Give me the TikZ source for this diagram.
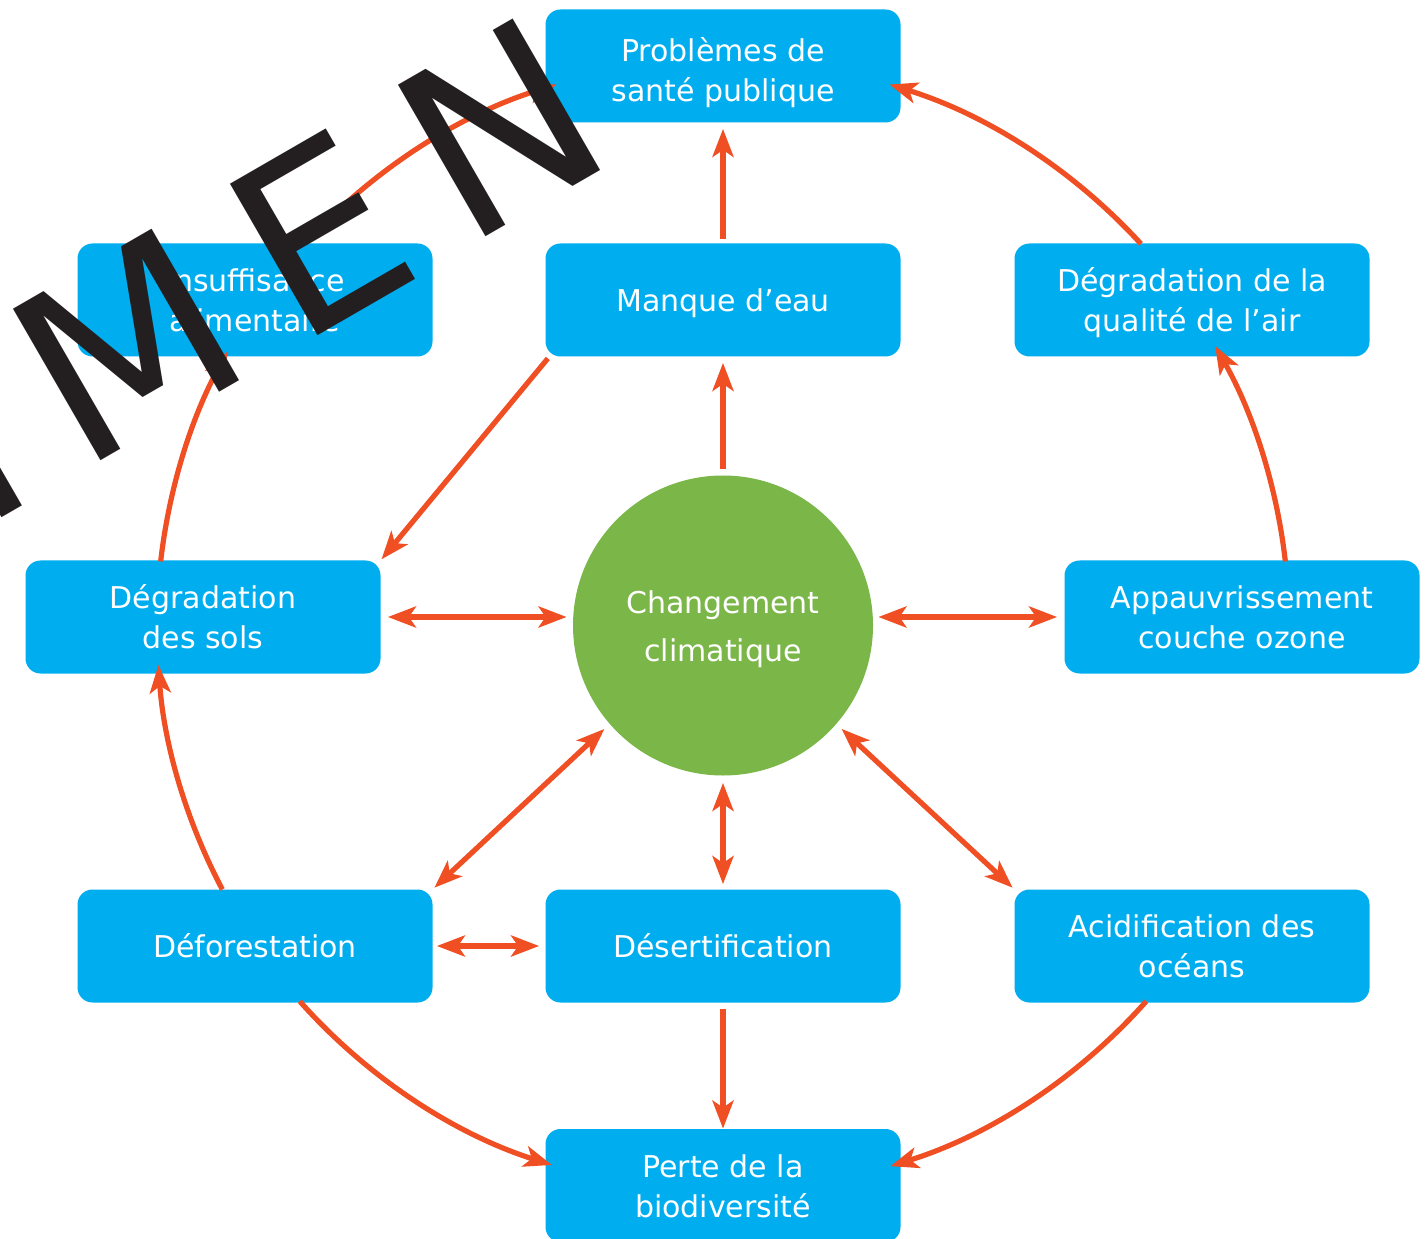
\documentclass[tikz,border=0pt]{standalone}
\usepackage{fontspec}
\setmainfont{DejaVu Sans}
\usetikzlibrary{arrows.meta}
\definecolor{boxblue}{HTML}{00AEEF}
\definecolor{cgreen}{HTML}{7AB648}
\definecolor{arrred}{HTML}{F04E23}
\definecolor{wmark}{HTML}{231F20}
\newcommand{\mystrut}{\rule[-3.5pt]{0pt}{18.5pt}}
\newcommand{\mytallstrut}{\rule[-3.5pt]{0pt}{22.5pt}}
\begin{document}
\begin{tikzpicture}[x=0.5pt,y=0.5pt,
  box/.style={rectangle, rounded corners=7.5pt, fill=boxblue, text=white,
    minimum width=177.5pt, minimum height=56.5pt, inner sep=0pt, align=center,
    font=\fontsize{15}{20}\selectfont},
  hub/.style={circle, fill=cgreen, text=white, minimum size=150pt, inner sep=0pt,
    align=center, font=\fontsize{15}{24}\selectfont},
  arr/.style={draw=arrred, line width=2.6pt, -{Stealth[length=14pt,width=10.5pt,inset=3.5pt]}},
  darr/.style={draw=arrred, line width=2.6pt,
    {Stealth[length=14pt,width=10.5pt,inset=3.5pt]}-{Stealth[length=14pt,width=10.5pt,inset=3.5pt]}},
  wm/.style={text=wmark, font=\fontsize{120}{120}\selectfont, inner sep=0pt,
    outer sep=0pt, anchor=base west, rotate=30}
]
\useasboundingbox (0,0) rectangle (1427,1238);
\clip (0,0) rectangle (1427,1238);

% boxes
\node[box] (prob)   at (723,1172) {\mytallstrut Problèmes de\\\mystrut santé publique};
\node[box] (manque) at (723,938)  {\mystrut Manque d’eau};
\node[box] (insuf)  at (255,938)  {\mystrut Insuffisance\\\mystrut alimentaire};
\node[box] (air)    at (1192,938) {\mystrut Dégradation de la\\\mystrut qualité de l’air};
\node[box] (sols)   at (203,621)  {\mystrut Dégradation\\\mystrut des sols};
\node[box] (ozone)  at (1242,621) {\mystrut Appauvrissement\\\mystrut couche ozone};
\node[hub] (cc)     at (723,612.5) {\mystrut Changement\\\mystrut climatique};
\node[box] (defor)  at (255,292)  {\mystrut Déforestation};
\node[box] (desert) at (723,292)  {\mystrut Désertification};
\node[box] (acid)   at (1192,292) {\mystrut Acidification des\\\mystrut océans};
\node[box] (perte)  at (723,52.5) {\mystrut Perte de la\\\mystrut biodiversité};

% straight connectors
\draw[arr, shorten <=2pt, shorten >=3pt] (manque.north) -- (prob.south);
\draw[arr, shorten <=3pt, shorten >=3pt] (cc.north) -- (manque.south);
\draw[arr, shorten <=1pt, shorten >=0.5pt] ([xshift=2pt]manque.south west) -- (sols.north east);
\draw[darr, shorten <=3.5pt, shorten >=3pt] (sols.east) -- (sols.east -| cc.west);
\draw[darr, shorten <=2.5pt, shorten >=3.5pt] (ozone.west -| cc.east) -- (ozone.west);
\draw[darr, shorten <=3.5pt, shorten >=1pt] (cc.221) -- (defor.north east);
\draw[darr, shorten <=3.5pt, shorten >=1pt] (cc.319) -- (acid.north west);
\draw[darr, shorten <=3.5pt, shorten >=2.5pt] (cc.south) -- (desert.north);
\draw[darr, shorten <=2pt, shorten >=3pt] (defor.east) -- (desert.west);
\draw[arr, shorten <=3pt] (desert.south) -- (perte.north);

% outer ring connectors (arcs around the hub)
\draw[arr] (cc.center) ++(221.6:566) arc[start angle=221.6, end angle=252.4, radius=283pt];
\draw[arr] (cc.center) ++(318.4:566) arc[start angle=318.4, end angle=287.2, radius=283pt];
\draw[arr] (cc.center) ++(207.8:566) arc[start angle=207.8, end angle=184, radius=283pt];
\draw[arr] (cc.center) ++(173.5:566) arc[start angle=173.5, end angle=151, radius=283pt];
\draw[arr] (cc.center) ++(137.5:566) arc[start angle=137.5, end angle=107.1, radius=283pt];
\draw[arr] (cc.center) ++(6.5:566) arc[start angle=6.5, end angle=29.6, radius=283pt];
\draw[arr] (cc.center) ++(42.4:566) arc[start angle=42.4, end angle=72.9, radius=283pt];

% watermark
\node[wm] (wI) at (-18.1,708.2) {I};
\node[wm] (wM) at (80.6,765.2) {M};
\node[wm] (wE) at (297.6,890.2) {E};
\node[wm] (wN) at (465.6,989.2) {N};
\end{tikzpicture}
\end{document}
